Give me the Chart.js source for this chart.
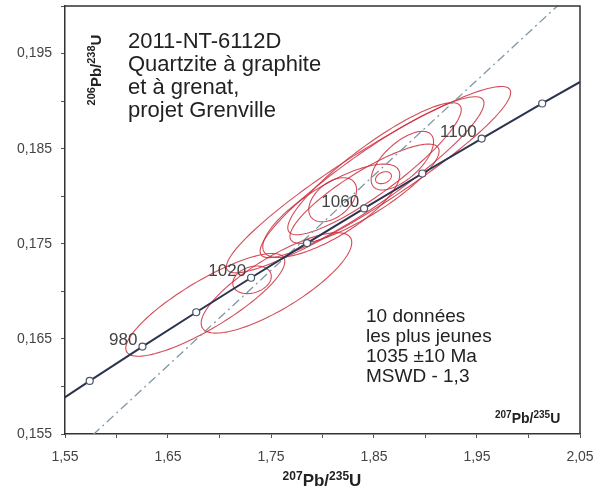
<!DOCTYPE html>
<html>
<head>
<meta charset="utf-8">
<script src="https://cdn.jsdelivr.net/npm/chart.js@4/dist/chart.umd.min.js"></script>
<style>
  html, body { margin: 0; padding: 0; background: #fff; }
</style>
</head>
<body>
<canvas id="concordia" width="603" height="497"></canvas>
<script>
// concordia curve nodes (age in Ma, 207Pb/235U, 206Pb/238U)
const concAge = [920, 940, 960, 980, 1000, 1020, 1040, 1060, 1080, 1100, 1120, 1140];
const concX = [1.47456, 1.52378, 1.57399, 1.62519, 1.67741, 1.73067, 1.78499, 1.84039, 1.89689, 1.95452, 2.01329, 2.07323];
const concY = [0.15340, 0.15698, 0.16058, 0.16419, 0.16780, 0.17143, 0.17507, 0.17872, 0.18239, 0.18606, 0.18975, 0.19344];
const labelAges = [980, 1020, 1060, 1100];

// dash-dot regression line
const refX = [1.55, 2.05];
const refY = [0.1522, 0.2022];

// error ellipses: centre, 2-sigma errors, correlation
const ellX   = [1.6862, 1.7553, 1.7316, 1.8447, 1.8481, 1.8505, 1.8099, 1.8775, 1.8592, 1.8085, 1.8408];
const ellY   = [0.16858, 0.17089, 0.17121, 0.18174, 0.18200, 0.18289, 0.17963, 0.18374, 0.18195, 0.17847, 0.18026];
const ellSx  = [0.0772, 0.0731, 0.0187, 0.1380, 0.1087, 0.0842, 0.0232, 0.0303, 0.0077, 0.0665, 0.0724];
const ellSy  = [0.00540, 0.00528, 0.00145, 0.00980, 0.00846, 0.00694, 0.00232, 0.00308, 0.00063, 0.00491, 0.00522];
const ellRho = [0.843, 0.803, 0.25, 0.935, 0.920, 0.895, 0.45, 0.646, 0.3, 0.770, 0.858];

const titleLines = ['2011-NT-6112D', 'Quartzite à graphite', 'et à grenat,', 'projet Grenville'];
const resultLines = ['10 données', 'les plus jeunes', '1035 ±10 Ma', 'MSWD - 1,3'];

const FONT = 'Arial, "Liberation Sans", sans-serif';

// draws e.g. 207Pb/235U with raised mass numbers
function isoLabel(ctx, x, y, sup1, main1, sup2, main2, size, supSize, align) {
  const big = 'bold ' + size + 'px ' + FONT;
  const small = 'bold ' + supSize + 'px ' + FONT;
  const parts = [[sup1, small, -size * 0.38], [main1, big, 0], [sup2, small, -size * 0.38], [main2, big, 0]];
  let w = 0;
  parts.forEach(p => { ctx.font = p[1]; w += ctx.measureText(p[0]).width; });
  let cx = align === 'center' ? x - w / 2 : x;
  ctx.textAlign = 'left';
  ctx.textBaseline = 'alphabetic';
  parts.forEach(p => {
    ctx.font = p[1];
    ctx.fillText(p[0], cx, y + p[2]);
    cx += ctx.measureText(p[0]).width;
  });
}

const ellipsePlugin = {
  id: 'ellipses',
  beforeDatasetsDraw(chart) {
    const { ctx, chartArea, scales } = chart;
    ctx.save();
    ctx.beginPath();
    ctx.rect(chartArea.left, chartArea.top, chartArea.right - chartArea.left, chartArea.bottom - chartArea.top);
    ctx.clip();
    ctx.strokeStyle = 'rgba(205, 45, 60, 0.85)';
    ctx.lineWidth = 1.1;
    for (let i = 0; i < ellX.length; i++) {
      const k = Math.sqrt(1 - ellRho[i] * ellRho[i]);
      ctx.beginPath();
      for (let a = 0; a <= 360; a += 3) {
        const t = a * Math.PI / 180;
        const vx = ellX[i] + ellSx[i] * Math.cos(t);
        const vy = ellY[i] + ellSy[i] * (ellRho[i] * Math.cos(t) + k * Math.sin(t));
        const px = scales.x.getPixelForValue(vx);
        const py = scales.y.getPixelForValue(vy);
        if (a === 0) ctx.moveTo(px, py); else ctx.lineTo(px, py);
      }
      ctx.closePath();
      ctx.stroke();
    }
    ctx.restore();
  }
};

const textPlugin = {
  id: 'texts',
  afterDraw(chart) {
    const { ctx, chartArea, scales } = chart;
    ctx.save();
    // frame: top and right sides
    ctx.strokeStyle = '#333';
    ctx.lineWidth = 1.5;
    ctx.beginPath();
    ctx.moveTo(chartArea.left, chartArea.top);
    ctx.lineTo(chartArea.right, chartArea.top);
    ctx.lineTo(chartArea.right, chartArea.bottom);
    ctx.stroke();

    // age labels on concordia
    ctx.fillStyle = '#444';
    ctx.font = '17px ' + FONT;
    ctx.textAlign = 'right';
    ctx.textBaseline = 'middle';
    labelAges.forEach(age => {
      const i = concAge.indexOf(age);
      const px = scales.x.getPixelForValue(concX[i]);
      const py = scales.y.getPixelForValue(concY[i]);
      ctx.fillText(String(age), px - 5, py - 6);
    });

    // sample title block
    ctx.fillStyle = '#222';
    ctx.font = '22px ' + FONT;
    ctx.textAlign = 'left';
    ctx.textBaseline = 'alphabetic';
    titleLines.forEach((s, i) => ctx.fillText(s, 128, 48 + i * 23));

    // result block
    ctx.font = '19px ' + FONT;
    resultLines.forEach((s, i) => ctx.fillText(s, 366, 322 + i * 20));

    // axis titles
    ctx.fillStyle = '#222';
    isoLabel(ctx, 322, 486, '207', 'Pb/', '235', 'U', 17, 12, 'center');
    isoLabel(ctx, 495, 423, '207', 'Pb/', '235', 'U', 14, 10, 'left');
    ctx.save();
    ctx.translate(101, 70);
    ctx.rotate(-Math.PI / 2);
    isoLabel(ctx, 0, 0, '206', 'Pb/', '238', 'U', 15, 11, 'center');
    ctx.restore();
    ctx.restore();
  }
};

const ctx = document.getElementById('concordia').getContext('2d');
const concordiaChart = new Chart(ctx, {
  type: 'scatter',
  data: {
    datasets: [
      {
        label: 'concordia',
        data: concX.map((x, i) => ({ x: x, y: concY[i] })),
        showLine: true,
        borderColor: '#2b3350',
        borderWidth: 2,
        pointRadius: 3.5,
        pointBackgroundColor: '#fff',
        pointBorderColor: '#4a5568',
        pointBorderWidth: 1.2,
        order: 1
      },
      {
        label: 'regression',
        data: refX.map((x, i) => ({ x: x, y: refY[i] })),
        showLine: true,
        borderColor: '#7f98a4',
        borderWidth: 1.3,
        borderDash: [9, 4, 2, 4],
        pointRadius: 0,
        order: 2
      }
    ]
  },
  plugins: [ellipsePlugin, textPlugin],
  options: {
    responsive: false,
    animation: false,
    layout: { padding: { top: 6, right: 23, left: 0, bottom: 0 } },
    plugins: {
      legend: { display: false },
      tooltip: { enabled: false }
    },
    scales: {
      x: {
        type: 'linear',
        min: 1.55,
        max: 2.05,
        afterFit: s => { s.height = 63; s.paddingLeft = 0; s.paddingRight = 0; },
        border: { display: true, color: '#333', width: 1.5 },
        grid: { drawOnChartArea: false, color: '#555', tickLength: 4 },
        ticks: {
          stepSize: 0.05,
          autoSkip: false,
          maxRotation: 0,
          padding: 11,
          color: '#444',
          font: { family: FONT, size: 14 },
          callback: v => (Math.round(v * 100) % 10 === 5 ? v.toFixed(2).replace('.', ',') : '')
        }
      },
      y: {
        type: 'linear',
        min: 0.155,
        max: 0.2,
        afterFit: s => { s.width = 65; s.paddingTop = 0; s.paddingBottom = 0; },
        border: { display: true, color: '#333', width: 1.5 },
        grid: { drawOnChartArea: false, color: '#555', tickLength: 4 },
        ticks: {
          stepSize: 0.005,
          autoSkip: false,
          padding: 9,
          color: '#444',
          font: { family: FONT, size: 14 },
          callback: v => (Math.round(v * 1000) % 10 === 5 && v < 0.1995 ? v.toFixed(3).replace('.', ',') : '')
        }
      }
    }
  }
});
</script>
</body>
</html>
